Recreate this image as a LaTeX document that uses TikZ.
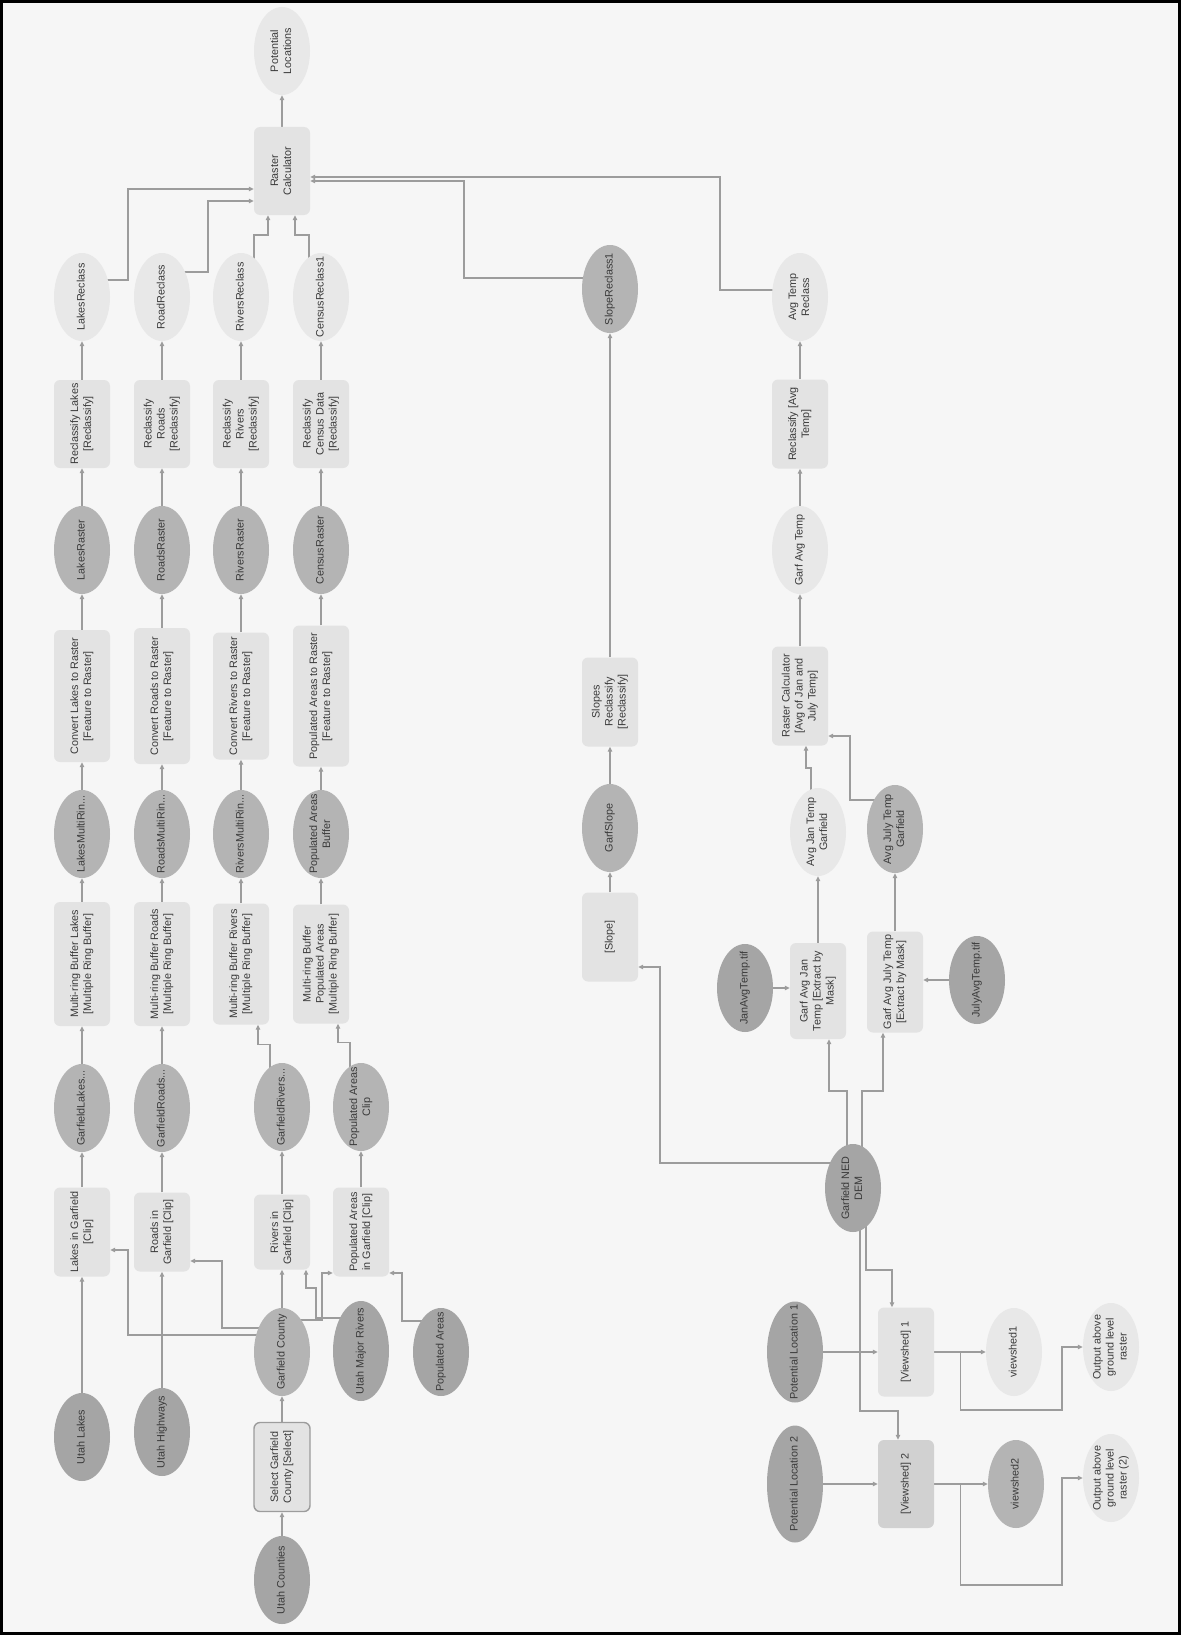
\documentclass[tikz,border=0pt]{standalone}
\usepackage{fontspec}
\setmainfont{Liberation Sans}
\usepackage{xcolor}
\usepackage{tikz}
\usetikzlibrary{arrows.meta,shapes.geometric,backgrounds}

\definecolor{pagebg}{HTML}{F6F6F6}
\definecolor{toolfill}{HTML}{E3E3E3}
\definecolor{lightell}{HTML}{E8E8E8}
\definecolor{midell}{HTML}{B4B4B4}
\definecolor{darkell}{HTML}{A5A5A5}
\definecolor{linegray}{HTML}{9C9C9C}
\definecolor{txtgray}{HTML}{3A3A3A}

% rotated, centred label that does not grow the shape
\newcommand{\rtxt}[1]{\makebox[0pt]{\raisebox{-0.5\height}[0pt][0pt]{%
  \rotatebox{90}{\begin{tabular}{@{}c@{}}#1\end{tabular}}}}}

\begin{document}
\begin{tikzpicture}[
  x=1pt, y=-1pt,
  font=\fontsize{10.8}{13}\selectfont,
  >={Triangle[length=5pt,width=4.5pt]},
  tool/.style={
    rectangle, rounded corners=6pt, fill=toolfill, text=txtgray,
    minimum width=56pt, minimum height=88pt, inner sep=0pt},
  derived/.style={
    ellipse, fill=lightell, text=txtgray,
    minimum width=56pt, minimum height=88pt, inner sep=0pt},
  interim/.style={derived, fill=midell},
  source/.style={derived, fill=darkell},
  edge/.style={->, line width=1.1pt, draw=linegray},
]
\useasboundingbox (0,0) rectangle (1181,1635);

% ---- Final output ----
\node[derived] (potloc) at (282,51) {\rtxt{Potential\\Locations}};
\node[tool] (rcalc) at (282,171) {\rtxt{Raster\\Calculator}};

% ---- Lakes chain ----
\node[derived] (lakesrecl) at (82,297) {\rtxt{LakesReclass}};
\node[tool] (reclakes) at (82,424) {\rtxt{Reclassify Lakes\\{}[Reclassify]}};
\node[interim] (lakesras) at (82,550) {\rtxt{LakesRaster}};
\node[tool, minimum height=132pt] (convlakes) at (82,696) {\rtxt{Convert Lakes to Raster\\{}[Feature to Raster]}};
\node[interim] (lakesmrb) at (82,834) {\rtxt{LakesMultiRin...}};
\node[tool, minimum height=124pt] (bufflakes) at (82,964) {\rtxt{Multi-ring Buffer Lakes\\{}[Multiple Ring Buffer]}};
\node[interim] (garflakes) at (82,1108) {\rtxt{GarfieldLakes...}};
\node[tool, minimum height=89pt] (cliplakes) at (82,1232) {\rtxt{Lakes in Garfield\\{}[Clip]}};
\node[source] (utahlakes) at (82,1437) {\rtxt{Utah Lakes}};

% ---- Roads chain ----
\node[derived] (roadrecl) at (162,297) {\rtxt{RoadReclass}};
\node[tool] (recroads) at (162,424) {\rtxt{Reclassify\\Roads\\{}[Reclassify]}};
\node[interim] (roadsras) at (162,550) {\rtxt{RoadsRaster}};
\node[tool, minimum height=136pt] (convroads) at (162,696) {\rtxt{Convert Roads to Raster\\{}[Feature to Raster]}};
\node[interim] (roadsmrb) at (162,834) {\rtxt{RoadsMultiRin...}};
\node[tool, minimum height=124pt] (buffroads) at (162,964) {\rtxt{Multi-ring Buffer Roads\\{}[Multiple Ring Buffer]}};
\node[interim] (garfroads) at (162,1108) {\rtxt{GarfieldRoads...}};
\node[tool, minimum height=79pt] (cliproads) at (162,1232) {\rtxt{Roads in\\Garfield [Clip]}};
\node[source] (utahhwy) at (162,1432) {\rtxt{Utah Highways}};

% ---- Rivers chain ----
\node[derived] (riversrecl) at (241,297) {\rtxt{RiversReclass}};
\node[tool] (recrivers) at (241,424) {\rtxt{Reclassify\\Rivers\\{}[Reclassify]}};
\node[interim] (riversras) at (241,550) {\rtxt{RiversRaster}};
\node[tool, minimum height=127pt] (convrivers) at (241,696) {\rtxt{Convert Rivers to Raster\\{}[Feature to Raster]}};
\node[interim] (riversmrb) at (241,834) {\rtxt{RiversMultiRin...}};
\node[tool, minimum height=121pt] (buffrivers) at (241,964) {\rtxt{Multi-ring Buffer Rivers\\{}[Multiple Ring Buffer]}};
\node[interim] (garfrivers) at (282,1107) {\rtxt{GarfieldRivers...}};
\node[tool, minimum height=75pt] (cliprivers) at (282,1232) {\rtxt{Rivers in\\Garfield [Clip]}};

% ---- Census / populated areas chain ----
\node[derived] (censusrecl) at (321,297) {\rtxt{CensusReclass1}};
\node[tool] (reccensus) at (321,424) {\rtxt{Reclassify\\Census Data\\{}[Reclassify]}};
\node[interim] (censusras) at (321,550) {\rtxt{CensusRaster}};
\node[tool, minimum height=141pt] (convpop) at (321,696) {\rtxt{Populated Areas to Raster\\{}[Feature to Raster]}};
\node[interim] (popbuff) at (321,834) {\rtxt{Populated Areas\\Buffer}};
\node[tool, minimum height=119pt] (buffpop) at (321,964) {\rtxt{Multi-ring Buffer\\Populated Areas\\{}[Multiple Ring Buffer]}};
\node[interim] (popclipped) at (361,1107) {\rtxt{Populated Areas\\Clip}};
\node[tool, minimum height=89pt] (clippop) at (361,1232) {\rtxt{Populated Areas\\in Garfield [Clip]}};

% ---- County selection and inputs ----
\node[interim] (gcounty) at (282,1352) {\rtxt{Garfield County}};
\node[source, minimum height=100pt] (umrivers) at (361,1351) {\rtxt{Utah Major Rivers}};
\node[source] (popareas) at (441,1352) {\rtxt{Populated Areas}};
\node[tool, minimum height=89pt, draw=linegray, line width=1.4pt] (selcounty) at (282,1467) {\rtxt{Select Garfield\\County [Select]}};
\node[source] (ucounties) at (282,1580) {\rtxt{Utah Counties}};

% ---- Slope chain ----
\node[interim] (slopere) at (610,289) {\rtxt{SlopeReclass1}};
\node[tool, minimum height=89pt] (slopesrecl) at (610,702) {\rtxt{Slopes\\Reclassify\\{}[Reclassify]}};
\node[interim] (garfslope) at (610,828) {\rtxt{GarfSlope}};
\node[tool, minimum height=89pt] (slope) at (610,937) {\rtxt{[Slope]}};

% ---- Temperature chain ----
\node[derived] (avgrecl) at (800,297) {\rtxt{Avg Temp\\Reclass}};
\node[tool, minimum height=89pt] (recavg) at (800,424) {\rtxt{Reclassify [Avg\\Temp]}};
\node[derived] (garfavg) at (800,550) {\rtxt{Garf Avg Temp}};
\node[tool, minimum height=99pt] (rcavg) at (800,696) {\rtxt{Raster Calculator\\{}[Avg of Jan and\\July Temp]}};
\node[derived] (avgjan) at (818,832) {\rtxt{Avg Jan Temp\\Garfield}};
\node[interim] (avgjuly) at (895,829) {\rtxt{Avg July Temp\\Garfield}};
\node[source] (jantif) at (745,988) {\rtxt{JanAvgTemp.tif}};
\node[tool, minimum height=96pt] (extjan) at (818,991) {\rtxt{Garf Avg Jan\\Temp [Extract by\\Mask]}};
\node[tool, minimum height=101pt] (extjuly) at (895,982) {\rtxt{Garf Avg July Temp\\{}[Extract by Mask]}};
\node[source] (julytif) at (977,980) {\rtxt{JulyAvgTemp.tif}};
\node[source] (dem) at (853,1188) {\rtxt{Garfield NED\\DEM}};

% ---- Viewsheds ----
\node[source, minimum height=101pt] (ploc1) at (795,1352) {\rtxt{Potential Location 1}};
\node[tool, minimum height=89pt] (vshed1) at (906,1352) {\rtxt{[Viewshed] 1}};
\node[derived] (vs1out) at (1014,1352) {\rtxt{viewshed1}};
\node[derived] (agl1) at (1111,1347) {\rtxt{Output above\\ground level\\raster}};
\node[source, minimum height=117pt] (ploc2) at (795,1484) {\rtxt{Potential Location 2}};
\node[tool, fill=toolfill!92!black] (vshed2) at (906,1484) {\rtxt{[Viewshed] 2}};
\node[interim] (vs2out) at (1016,1484) {\rtxt{viewshed2}};
\node[derived] (agl2) at (1111,1478) {\rtxt{Output above\\ground level\\raster (2)}};

\begin{scope}[on background layer]
  \fill[pagebg] (0,0) rectangle (1181,1635);

  % lakes
  \draw[edge] (utahlakes) -- (cliplakes);
  \draw[edge] (cliplakes) -- (garflakes);
  \draw[edge] (garflakes) -- (bufflakes);
  \draw[edge] (bufflakes) -- (lakesmrb);
  \draw[edge] (lakesmrb) -- (convlakes);
  \draw[edge] (convlakes) -- (lakesras);
  \draw[edge] (lakesras) -- (reclakes);
  \draw[edge] (reclakes) -- (lakesrecl);
  % roads
  \draw[edge] (utahhwy) -- (cliproads);
  \draw[edge] (cliproads) -- (garfroads);
  \draw[edge] (garfroads) -- (buffroads);
  \draw[edge] (buffroads) -- (roadsmrb);
  \draw[edge] (roadsmrb) -- (convroads);
  \draw[edge] (convroads) -- (roadsras);
  \draw[edge] (roadsras) -- (recroads);
  \draw[edge] (recroads) -- (roadrecl);
  % rivers
  \draw[edge] (gcounty) -- (cliprivers);
  \draw[edge] (cliprivers) -- (garfrivers);
  \draw[edge] ([xshift=-12pt]garfrivers.center) -- ([xshift=-12pt,yshift=18pt]garfrivers.north) -| ([xshift=17pt]buffrivers.south);
  \draw[edge] (buffrivers) -- (riversmrb);
  \draw[edge] (riversmrb) -- (convrivers);
  \draw[edge] (convrivers) -- (riversras);
  \draw[edge] (riversras) -- (recrivers);
  \draw[edge] (recrivers) -- (riversrecl);
  % census
  \draw[edge] (clippop) -- (popclipped);
  \draw[edge] ([xshift=-11pt]popclipped.center) -- ([xshift=-11pt,yshift=20pt]popclipped.north) -| ([xshift=17pt]buffpop.south);
  \draw[edge] (buffpop) -- (popbuff);
  \draw[edge] (popbuff) -- (convpop);
  \draw[edge] (convpop) -- (censusras);
  \draw[edge] (censusras) -- (reccensus);
  \draw[edge] (reccensus) -- (censusrecl);

  % county clips
  \draw[edge] (ucounties) -- (selcounty);
  \draw[edge] (selcounty) -- (gcounty);
  \draw[edge] ([yshift=17pt]gcounty.center) -| (128,1250) -- ([yshift=-18pt]cliplakes.east);
  \draw[edge] ([yshift=24pt]gcounty.center) -| (222,1261) -- ([yshift=-29pt]cliproads.east);
  \draw[edge] ([yshift=32pt]gcounty.center) -| (322,1273) -- ([yshift=-41pt]clippop.west);
  \draw[edge] ([yshift=33pt]umrivers.center) -| (316,1288) -| ([xshift=24pt]cliprivers.south);
  \draw[edge] ([yshift=31pt]popareas.center) -| (402,1273) -- ([yshift=-41pt]clippop.east);

  % into the raster calculator
  \draw[edge] ([yshift=17pt]lakesrecl.center) -| (128,189) -- ([yshift=-18pt]rcalc.west);
  \draw[edge] ([yshift=25pt]roadrecl.center) -| (208,201) -- ([yshift=-30pt]rcalc.west);
  \draw[edge] ([xshift=13pt]riversrecl.center) |- (268,235) -- ([xshift=-14pt]rcalc.south);
  \draw[edge] ([xshift=-12pt]censusrecl.center) |- (295,235) -- ([xshift=13pt]rcalc.south);
  \draw[edge] ([yshift=11pt]slopere.center) -| (464,181) -- ([yshift=-10pt]rcalc.east);
  \draw[edge] ([yshift=7pt]avgrecl.center) -| (720,177) -- ([yshift=-6pt]rcalc.east);
  \draw[edge] (rcalc) -- (potloc);

  % slope
  \draw[edge] ([yshift=25pt]dem.center) -| (660,967) -- ([yshift=-30pt]slope.east);
  \draw[edge] (slope) -- (garfslope);
  \draw[edge] (garfslope) -- (slopesrecl);
  \draw[edge] (slopesrecl) -- (slopere);

  % temperature
  \draw[edge] ([xshift=-6pt]dem.center) |- (829,1091) -- ([xshift=11pt]extjan.south);
  \draw[edge] ([xshift=9pt]dem.center) |- (883,1091) -- ([xshift=-12pt]extjuly.south);
  \draw[edge] (jantif.east) -- (jantif.east -| extjan.west);
  \draw[edge] (julytif.west) -- (julytif.west -| extjuly.east);
  \draw[edge] (extjan) -- (avgjan);
  \draw[edge] (extjuly) -- (avgjuly);
  \draw[edge] ([xshift=-7pt]avgjan.center) |- (806,768) -- ([xshift=6pt]rcavg.south);
  \draw[edge] ([xshift=-20pt,yshift=29pt]avgjuly.center) -| (850,736) -- ([yshift=-40pt]rcavg.east);
  \draw[edge] (rcavg) -- (garfavg);
  \draw[edge] (garfavg) -- (recavg);
  \draw[edge] (recavg) -- (avgrecl);

  % viewsheds
  \draw[edge] ([xshift=13pt]dem.center) |- (892,1270) -- ([xshift=-14pt]vshed1.north);
  \draw[edge] ([xshift=7pt]dem.center) |- (898,1411) -- ([xshift=-8pt]vshed2.north);
  \draw[edge] (ploc1) -- (vshed1);
  \draw[edge] (ploc2) -- (vshed2);
  \draw[edge] (vshed1) -- (vs1out);
  \draw[edge] (vshed2) -- (vs2out);
  \draw[edge] (vshed1.east) -- ++(26,0) |- (1062,1410) |- (agl1.west);
  \draw[edge] (vshed2.east) -- ++(26,0) |- (1062,1585) |- (agl2.west);
\end{scope}

\draw[line width=3pt] (1.5,1.5) rectangle (1179.5,1633.5);
\end{tikzpicture}
\end{document}
